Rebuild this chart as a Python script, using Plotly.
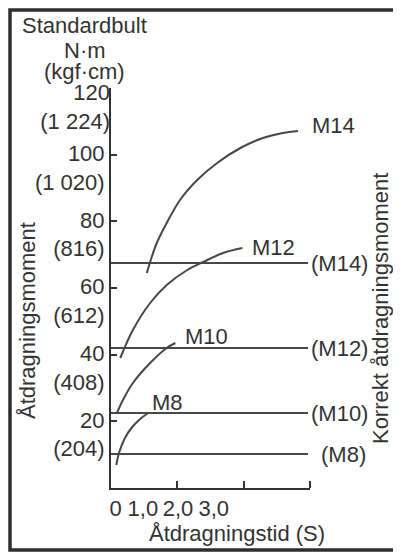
# -*- coding: utf-8 -*-
import plotly.graph_objects as go

MORK = "#333333"
LINJE = "#474747"
FONT = "Liberation Sans, Arial, sans-serif"
FS = 22

# Åtdragningskurvor (tid i s, moment i N·m)
m14_x = [0.54, 0.59, 0.69, 0.84, 1.04, 1.30, 1.60, 1.95, 2.29, 2.59, 2.82]
m14_y = [64.5, 67.8, 73.5, 79.5, 86.4, 92.4, 97.5, 102.0, 105.0, 106.5, 107.1]
m12_x = [0.14, 0.33, 0.59, 0.84, 1.15, 1.39, 1.69, 1.98]
m12_y = [39.0, 47.4, 55.5, 60.9, 65.4, 67.8, 70.5, 72.0]
m10_x = [0.09, 0.18, 0.33, 0.59, 0.84, 0.97]
m10_y = [22.5, 26.4, 31.5, 37.5, 42.0, 43.5]
m8_x = [0.08, 0.12, 0.21, 0.32, 0.44, 0.56]
m8_y = [6.9, 10.5, 15.0, 18.3, 20.7, 22.5]

kurvor = ["M14", "M12", "M10", "M8"]
kurv_etikett_x = [3.00, 2.10, 1.09, 0.59]
kurv_etikett_y = [108.9, 72.3, 45.6, 25.8]

# Korrekt åtdragningsmoment per bult
korrekt_namn = ["(M14)", "(M12)", "(M10)", "(M8)"]
korrekt_moment = [67.5, 42.0, 22.5, 10.2]
korrekt_slut = 2.97

# Axlar
y_varden = [20, 40, 60, 80, 100]
y_kgf = ["(204)", "(408)", "(612)", "(816)", "(1 020)"]
y_topp = 120
y_topp_kgf = "(1 224)"
x_etikett_pos = [0.07, 0.48, 1.01, 1.55]
x_etiketter = ["0", "1,0", "2,0", "3,0"]
x_streck = [1, 2, 3]

fig = go.Figure()

for namn, xs, ys in zip(kurvor, [m14_x, m12_x, m10_x, m8_x], [m14_y, m12_y, m10_y, m8_y]):
    fig.add_trace(go.Scatter(
        x=xs, y=ys, mode="lines", name=namn,
        line=dict(color=LINJE, width=2, shape="spline"),
        hoverinfo="skip",
    ))

for namn, lx, ly in zip(kurvor, kurv_etikett_x, kurv_etikett_y):
    fig.add_annotation(
        x=lx, y=ly, text=namn, showarrow=False,
        xanchor="left", yanchor="middle",
        font=dict(size=FS, color=MORK, family=FONT),
    )

# korrekta moment ritas mot y2 (samma skala som y)
for namn, moment in zip(korrekt_namn, korrekt_moment):
    fig.add_trace(go.Scatter(
        x=[0, korrekt_slut], y=[moment, moment], mode="lines", name=namn,
        line=dict(color=LINJE, width=2), hoverinfo="skip", yaxis="y2",
    ))
    fig.add_annotation(
        x=korrekt_slut, y=moment, text=namn, showarrow=False,
        xanchor="left", yanchor="middle", xshift=1 if namn != "(M8)" else 11,
        font=dict(size=FS, color=MORK, family=FONT),
    )

fig.update_layout(
    width=393, height=546,
    margin=dict(l=103, r=91, t=80, b=66),
    plot_bgcolor="white", paper_bgcolor="white",
    showlegend=False,
    font=dict(family=FONT, size=FS, color=MORK),
)

fig.update_xaxes(
    range=[0, 3], showgrid=False, zeroline=False,
    showline=True, linecolor=MORK, linewidth=2,
    tickvals=x_etikett_pos, ticktext=x_etiketter, ticks="",
    tickfont=dict(size=FS, color=MORK, family=FONT),
    minor=dict(tickvals=x_streck, ticks="inside", ticklen=7,
               tickwidth=2, tickcolor=MORK, showgrid=False),
)
fig.update_layout(
    yaxis=dict(
        range=[0, 120], showgrid=False, zeroline=False,
        showline=True, linecolor=MORK, linewidth=2,
        tickvals=y_varden,
        ticktext=[f"{v}<br>{k}" for v, k in zip(y_varden, y_kgf)],
        ticks="inside", ticklen=6, tickwidth=2, tickcolor=MORK,
        ticklabelshift=13,
        tickfont=dict(size=FS, color=MORK, family=FONT),
    ),
    # översta etiketten sitter lite lägre i originalet
    yaxis2=dict(
        overlaying="y", anchor="x", side="left", matches="y",
        range=[0, 120], showgrid=False, zeroline=False, showline=False,
        tickvals=[y_topp], ticktext=[f"{y_topp}<br>{y_topp_kgf}"],
        ticks="inside", ticklen=6, tickwidth=2, tickcolor=MORK,
        ticklabelshift=19,
        tickfont=dict(size=FS, color=MORK, family=FONT),
    ),
)

# Rubriker
for text, y in [("Standardbult", 1.1575), ("N·m", 1.095), ("(kgf·cm)", 1.0425)]:
    fig.add_annotation(
        xref="paper", yref="paper", x=-0.131, y=y, text=text,
        showarrow=False, xanchor="center", yanchor="middle",
        font=dict(size=FS, color=MORK, family=FONT),
    )
fig.add_annotation(
    xref="paper", yref="paper", x=-0.422, y=0.4175, text="Åtdragningsmoment",
    textangle=-90, showarrow=False, xanchor="center", yanchor="middle",
    font=dict(size=FS, color=MORK, family=FONT),
)
fig.add_annotation(
    xref="paper", yref="paper", x=1.352, y=0.4475, text="Korrekt åtdragningsmoment",
    textangle=-90, showarrow=False, xanchor="center", yanchor="middle",
    font=dict(size=FS, color=MORK, family=FONT),
)
fig.add_annotation(
    xref="paper", yref="paper", x=0.633, y=-0.1125, text="Åtdragningstid (S)",
    showarrow=False, xanchor="center", yanchor="middle",
    font=dict(size=FS, color=MORK, family=FONT),
)

# Ram runt hela bilden
fig.add_shape(
    type="rect", xref="paper", yref="paper",
    x0=-0.5075, x1=1.440, y0=-0.155, y1=1.195,
    line=dict(color="#2e2e2e", width=3.5),
)

fig.write_html("out.html")
